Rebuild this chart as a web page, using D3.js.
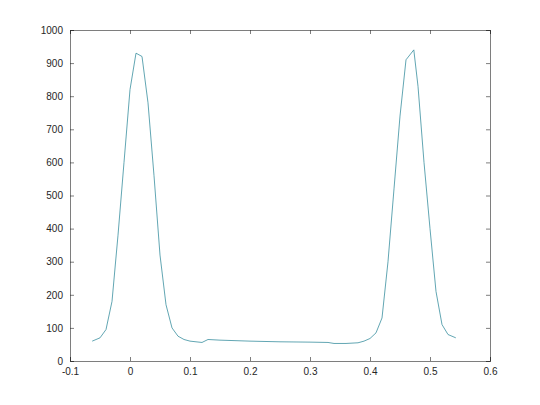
<!DOCTYPE html><html><head><meta charset="utf-8"><script src="https://cdn.jsdelivr.net/npm/d3@7"></script>
<style>body{margin:0;background:#fff}</style></head><body><svg id="c" width="540" height="405"></svg>
<script>
const xs=[-0.063,-0.05,-0.04,-0.03,-0.02,-0.01,0,0.01,0.02,0.03,0.04,0.05,0.06,0.07,0.08,0.09,0.1,0.11,0.12,0.13,0.15,0.2,0.25,0.3,0.33,0.34,0.36,0.38,0.39,0.4,0.41,0.42,0.43,0.44,0.45,0.46,0.473,0.48,0.49,0.5,0.51,0.52,0.53,0.543];
const ys=[60,70,95,180,380,600,820,930,920,780,560,320,170,100,75,65,60,58,56,65,63,60,58,57,56,53,53,55,60,68,85,130,300,520,740,910,940,830,600,400,210,110,80,70];
const xTicks=[-0.1,0,0.1,0.2,0.3,0.4,0.5,0.6];
const yTicks=[0,100,200,300,400,500,600,700,800,900,1000];
const svg=d3.select("#c");
const L=70,R=490,T=30,B=361;
const x=d3.scaleLinear().domain([-0.1,0.6]).range([L,R]);
const y=d3.scaleLinear().domain([0,1000]).range([B,T]);
const f="font-family:Helvetica,Arial,'Liberation Sans';font-size:10px";
svg.append("g").attr("transform",`translate(0,${B})`).call(d3.axisBottom(x).tickValues(xTicks).tickFormat(d=>String(d)).tickSize(-4).tickPadding(7));
svg.append("g").attr("transform",`translate(${L},0)`).call(d3.axisLeft(y).tickValues(yTicks).tickFormat(d=>String(d)).tickSize(-4).tickPadding(7));
svg.append("g").attr("transform",`translate(0,${T})`).call(d3.axisTop(x).tickValues(xTicks).tickFormat("").tickSize(-4));
svg.append("g").attr("transform",`translate(${R},0)`).call(d3.axisRight(y).tickValues(yTicks).tickFormat("").tickSize(-4));
svg.selectAll(".domain,.tick line").attr("stroke","#262626").attr("stroke-width",0.6);
svg.selectAll(".tick text").attr("style",f).attr("fill","#262626");
svg.append("path").datum(xs.map((d,i)=>[d,ys[i]])).attr("fill","none").attr("stroke","#3a8fa0").attr("stroke-width",0.8)
 .attr("d",d3.line().x(d=>x(d[0])).y(d=>y(d[1])));
</script></body></html>
